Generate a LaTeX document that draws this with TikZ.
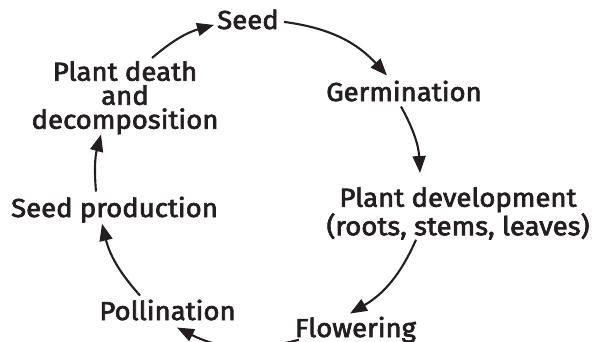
\documentclass[tikz,border=0pt]{standalone}
\usepackage{fontspec}
\setmainfont{Fira Sans}
\newfontfamily\lblfont{Fira Sans}[FakeBold=2.6,FakeStretch=1.06]
\usetikzlibrary{arrows.meta}
\definecolor{ink}{RGB}{35,31,32}
\begin{document}
\begin{tikzpicture}[x=1pt,y=-1pt,
  lbl/.style={inner sep=0pt,font=\lblfont\fontsize{26}{24}\selectfont,text=ink,align=center},
  arr/.style={draw=ink,line width=2.1pt,-{Triangle[length=17pt,width=13pt]}}]
\clip (0,0) rectangle (593,341);
\node[lbl,anchor=base] (seed) at (248,29) {Seed};
\node[lbl,anchor=base] (germ) at (404,101) {Germination};
\node[lbl,anchor=north] (pdev) at (458,187) {Plant development\\(roots, stems, leaves)};
\node[lbl,anchor=base] (flow) at (355.5,337) {Flowering};
\node[lbl,anchor=base] (poll) at (167.5,320) {Pollination};
\node[lbl,anchor=base] (sprod) at (114.5,217) {Seed production};
\node[lbl,anchor=north] (pdeath) at (125,61) {Plant death\\and\\decomposition};
\draw[arr] ([shift={(5,2.5)}]seed.east) to[bend left=20] ([shift={(-17,-5)}]germ.north);
\draw[arr] ([shift={(-3,5)}]germ.south) to[bend left=13] ([shift={(-38,-14)}]pdev.north);
\draw[arr] ([shift={(-42,0)}]pdev.south) to[bend left=18] ([shift={(-5.5,-3)}]flow.north);
\draw[arr] ([shift={(4,-3)}]flow.south west) to[bend left=21] ([shift={(9.5,7)}]poll.south);
\draw[arr] ([shift={(-27.5,-4)}]poll.north) to[bend left=14] ([shift={(-12.5,1)}]sprod.south);
\draw[arr] ([shift={(-18.5,-5)}]sprod.north) to[bend left=10] ([shift={(-24,0)}]pdeath.south);
\draw[arr] ([shift={(27,-3)}]pdeath.north) to[bend left=12.5] ([shift={(-3,5.5)}]seed.west);
\end{tikzpicture}
\end{document}
